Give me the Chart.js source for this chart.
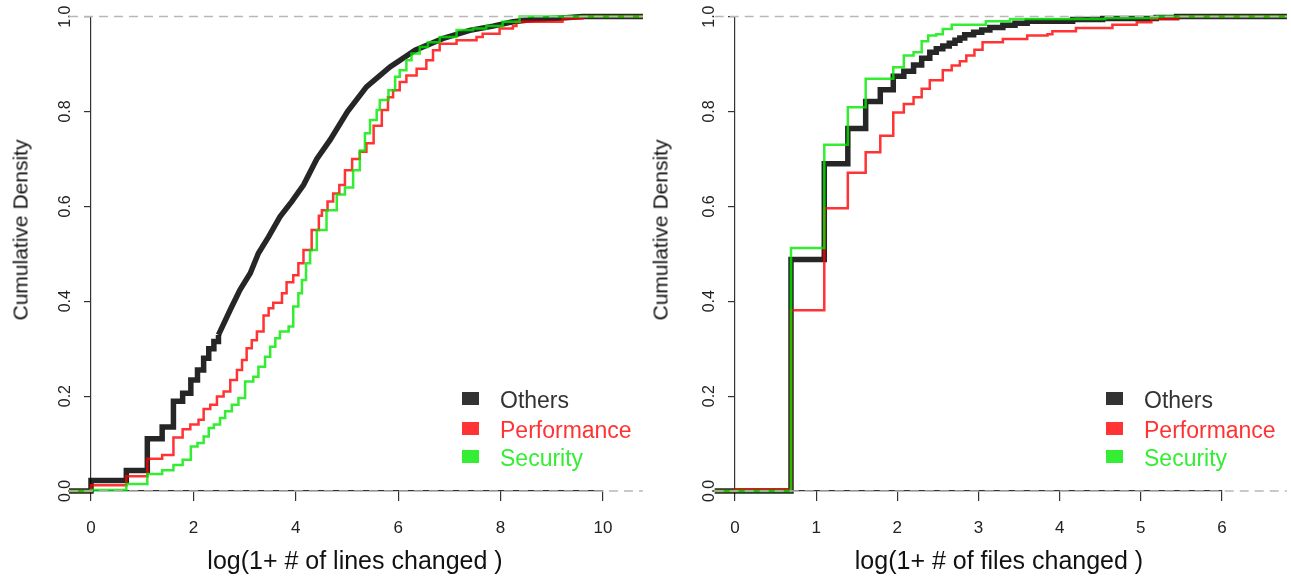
<!DOCTYPE html>
<html>
<head>
<meta charset="utf-8">
<script src="https://cdn.jsdelivr.net/npm/chart.js@4.4.1/dist/chart.umd.min.js"></script>
<style>
  body { margin: 0; background: #fff; width: 1291px; height: 578px; overflow: hidden; position: relative;
         font-family: "Liberation Sans", Arial, sans-serif; }
  canvas { position: absolute; top: 0; }
  .ytitle { position: absolute; font-size: 21px; line-height: 21px; color: #111; white-space: nowrap;
            transform: translate(-50%, -50%) rotate(-90deg); }
  .xtitle { position: absolute; font-size: 25px; line-height: 25px; color: #111; white-space: nowrap;
            transform: translateX(-50%); }
  .sw { position: absolute; width: 17px; height: 13px; }
  .lt { position: absolute; font-size: 23px; line-height: 26px; white-space: nowrap; }
</style>
</head>
<body>
<canvas id="linesChart" width="645" height="578" style="left:0"></canvas>
<canvas id="filesChart" width="646" height="578" style="left:645px"></canvas>

<div class="ytitle" style="left:20px; top:230px">Cumulative Density</div>
<div class="ytitle" style="left:660px; top:230px">Cumulative Density</div>
<div class="xtitle" style="left:355px; top:548px">log(1+ # of lines changed )</div>
<div class="xtitle" style="left:999px; top:548px">log(1+ # of files changed )</div>

<div id="legendLeft"></div>
<div id="legendRight"></div>

<script>
// series names / colours
const seriesNames = ['Others', 'Performance', 'Security'];
const lineColors = ['rgba(0,0,0,0.85)', 'rgba(255,0,0,0.8)', 'rgba(0,232,0,0.8)'];
const legendColors = ['#333333', '#ff3333', '#33ee33'];

// ---- left panel: log(1+ # of lines changed) ----
const linesOthersStepX = [-0.43, 0, 0.69, 1.10, 1.39, 1.61, 1.79, 1.95, 2.08, 2.20, 2.30, 2.40, 2.49];
const linesOthersStepY = [0, 0.022, 0.043, 0.11, 0.135, 0.189, 0.206, 0.234, 0.255, 0.28, 0.30, 0.315, 0.329];
const linesOthersX = [2.49, 2.72, 2.91, 3.11, 3.27, 3.47, 3.69, 3.92, 4.15, 4.41, 4.67, 5.01, 5.38, 5.84, 6.33, 6.88, 7.40, 7.85, 8.24, 8.63, 9.2, 9.6, 10.78];
const linesOthersY = [0.329, 0.382, 0.424, 0.459, 0.501, 0.536, 0.578, 0.61, 0.645, 0.70, 0.74, 0.80, 0.852, 0.894, 0.929, 0.954, 0.971, 0.98, 0.989, 0.994, 0.997, 1.0, 1.0];

const linesPerfX = [-0.43, 0, 0.69, 1.10, 1.39, 1.61, 1.79, 1.94, 2.10, 2.20, 2.33, 2.46, 2.59, 2.72, 2.85, 2.95, 3.04, 3.14, 3.24, 3.37, 3.47, 3.56, 3.73, 3.82, 3.95, 4.05, 4.15, 4.31, 4.45, 4.51, 4.62, 4.73, 4.85, 4.96, 5.10, 5.25, 5.38, 5.52, 5.68, 5.80, 5.90, 6.03, 6.16, 6.36, 6.55, 6.68, 6.81, 7.14, 7.53, 7.65, 7.98, 8.24, 8.31, 9.21, 9.6, 10.78];
const linesPerfY = [0, 0.012, 0.031, 0.068, 0.076, 0.113, 0.13, 0.14, 0.15, 0.173, 0.182, 0.199, 0.21, 0.234, 0.255, 0.276, 0.301, 0.318, 0.336, 0.37, 0.385, 0.397, 0.417, 0.44, 0.455, 0.48, 0.508, 0.55, 0.58, 0.592, 0.61, 0.627, 0.645, 0.676, 0.70, 0.715, 0.733, 0.77, 0.803, 0.83, 0.845, 0.862, 0.876, 0.89, 0.908, 0.929, 0.943, 0.95, 0.957, 0.964, 0.975, 0.98, 0.989, 0.996, 1.0, 1.0];

const linesSecX = [-0.43, 0, 0.69, 1.10, 1.39, 1.61, 1.79, 1.95, 2.08, 2.20, 2.30, 2.40, 2.52, 2.62, 2.75, 2.88, 3.01, 3.17, 3.27, 3.40, 3.50, 3.60, 3.69, 3.86, 3.95, 4.05, 4.12, 4.20, 4.28, 4.41, 4.60, 4.80, 4.96, 5.12, 5.25, 5.35, 5.45, 5.58, 5.64, 5.81, 5.94, 6.03, 6.16, 6.26, 6.42, 6.58, 6.81, 7.14, 7.46, 7.72, 8.04, 8.37, 10.78];
const linesSecY = [0, 0.002, 0.015, 0.036, 0.044, 0.055, 0.066, 0.094, 0.101, 0.115, 0.133, 0.14, 0.154, 0.168, 0.182, 0.196, 0.231, 0.241, 0.262, 0.283, 0.304, 0.322, 0.336, 0.347, 0.389, 0.417, 0.445, 0.48, 0.508, 0.55, 0.592, 0.625, 0.64, 0.676, 0.718, 0.754, 0.782, 0.803, 0.824, 0.845, 0.873, 0.887, 0.908, 0.922, 0.936, 0.946, 0.957, 0.972, 0.975, 0.98, 0.989, 1.0, 1.0];

const linesRange = [-0.43, 10.78];

// ---- right panel: log(1+ # of files changed) ----
const filesOthersX = [-0.25, 0.69, 1.10, 1.39, 1.61, 1.79, 1.95, 2.08, 2.20, 2.30, 2.40, 2.48, 2.56, 2.64, 2.71, 2.77, 2.83, 2.94, 3.04, 3.14, 3.30, 3.45, 3.6, 4.16, 4.53, 5.19, 5.44, 6.8];
const filesOthersY = [0, 0.488, 0.69, 0.764, 0.821, 0.846, 0.874, 0.885, 0.898, 0.912, 0.925, 0.932, 0.938, 0.944, 0.95, 0.955, 0.962, 0.967, 0.972, 0.977, 0.982, 0.986, 0.99, 0.994, 0.996, 0.998, 1.0, 1.0];

const filesPerfX = [-0.25, 0, 0.69, 1.10, 1.39, 1.61, 1.79, 1.95, 2.08, 2.20, 2.30, 2.40, 2.56, 2.67, 2.77, 2.85, 2.95, 3.05, 3.30, 3.60, 3.85, 3.91, 4.20, 4.65, 4.95, 5.13, 5.46, 6.8];
const filesPerfY = [0, 0.003, 0.381, 0.596, 0.671, 0.714, 0.749, 0.798, 0.816, 0.83, 0.848, 0.866, 0.887, 0.897, 0.906, 0.918, 0.93, 0.946, 0.953, 0.96, 0.963, 0.969, 0.976, 0.983, 0.988, 0.995, 1.0, 1.0];

const filesSecX = [-0.25, 0.69, 1.10, 1.39, 1.61, 1.95, 2.08, 2.20, 2.30, 2.38, 2.48, 2.56, 2.67, 3.09, 3.39, 4.56, 5.2, 6.8];
const filesSecY = [0, 0.512, 0.73, 0.809, 0.869, 0.893, 0.918, 0.925, 0.948, 0.96, 0.963, 0.974, 0.983, 0.99, 0.995, 0.997, 1.0, 1.0];

const filesRange = [-0.25, 6.8];

// reference levels (dashed grey)
const refLevels = [0, 1];

const FONT = '"Liberation Sans", Arial, sans-serif';

function series(xs, ys, color, width, stepped, order) {
  return {
    data: xs.map((x, i) => ({ x: x, y: ys[i] })),
    borderColor: color,
    borderWidth: width,
    stepped: stepped ? 'before' : false,
    pointRadius: 0,
    clip: false,
    order: order,
    borderCapStyle: 'butt',
    borderJoinStyle: 'miter'
  };
}

function refLines(range) {
  return refLevels.map(lv => ({
    data: range.map(x => ({ x: x, y: lv })),
    borderColor: '#b8b8b8',
    borderWidth: 1.5,
    borderDash: [9, 6],
    pointRadius: 0,
    clip: false,
    order: 0
  }));
}

function makeChart(id, datasets, xMax, xStep, pad) {
  const ctx = document.getElementById(id).getContext('2d');
  return new Chart(ctx, {
    type: 'line',
    data: { datasets: datasets },
    options: {
      responsive: false,
      animation: false,
      devicePixelRatio: 1,
      layout: { padding: pad },
      plugins: { legend: { display: false }, tooltip: { enabled: false } },
      scales: {
        x: {
          type: 'linear', min: 0, max: xMax,
          afterFit: s => { s.height = 60; },
          ticks: { stepSize: xStep, font: { family: FONT, size: 17 }, color: '#222', padding: 17 },
          grid: { drawOnChartArea: false, tickLength: 10, color: '#333', lineWidth: 1.2 },
          border: { color: '#333', width: 1.2 }
        },
        y: {
          type: 'linear', min: 0, max: 1,
          afterFit: s => { s.width = 60; },
          ticks: {
            stepSize: 0.2, callback: v => v.toFixed(1),
            minRotation: 90, maxRotation: 90, crossAlign: 'center', padding: 7,
            font: { family: FONT, size: 16 }, color: '#222'
          },
          grid: { drawOnChartArea: false, tickLength: 7, color: '#333', lineWidth: 1.2 },
          border: { color: '#333', width: 1.2 }
        }
      }
    }
  });
}

makeChart('linesChart', [
  ...refLines(linesRange),
  series(linesSecX, linesSecY, lineColors[2], 2.5, true, 1),
  series(linesPerfX, linesPerfY, lineColors[1], 2.5, true, 2),
  series(linesOthersStepX, linesOthersStepY, lineColors[0], 5.5, true, 3),
  series(linesOthersX, linesOthersY, lineColors[0], 5.5, false, 3)
], 10, 2, { left: 31, right: 42, top: 16, bottom: 27 });

makeChart('filesChart', [
  ...refLines(filesRange),
  series(filesSecX, filesSecY, lineColors[2], 2.5, true, 1),
  series(filesPerfX, filesPerfY, lineColors[1], 2.5, true, 2),
  series(filesOthersX, filesOthersY, lineColors[0], 5.5, true, 3)
], 6, 1, { left: 30, right: 69, top: 16, bottom: 27 });

// legends inside the plot, bottom right
const legendRowsY = [398, 428, 456];
function buildLegend(id, swatchX, textX) {
  const box = document.getElementById(id);
  seriesNames.forEach((name, i) => {
    const sw = document.createElement('div');
    sw.className = 'sw';
    sw.style.left = (swatchX - 8.5) + 'px';
    sw.style.top = (legendRowsY[i] - 6.5) + 'px';
    sw.style.background = legendColors[i];
    box.appendChild(sw);
    const t = document.createElement('div');
    t.className = 'lt';
    t.style.left = textX + 'px';
    t.style.top = (legendRowsY[i] + 1.5 - 12.8) + 'px';
    t.style.color = legendColors[i];
    t.textContent = name;
    box.appendChild(t);
  });
}
buildLegend('legendLeft', 470, 500);
buildLegend('legendRight', 1114, 1144);
</script>
</body>
</html>
